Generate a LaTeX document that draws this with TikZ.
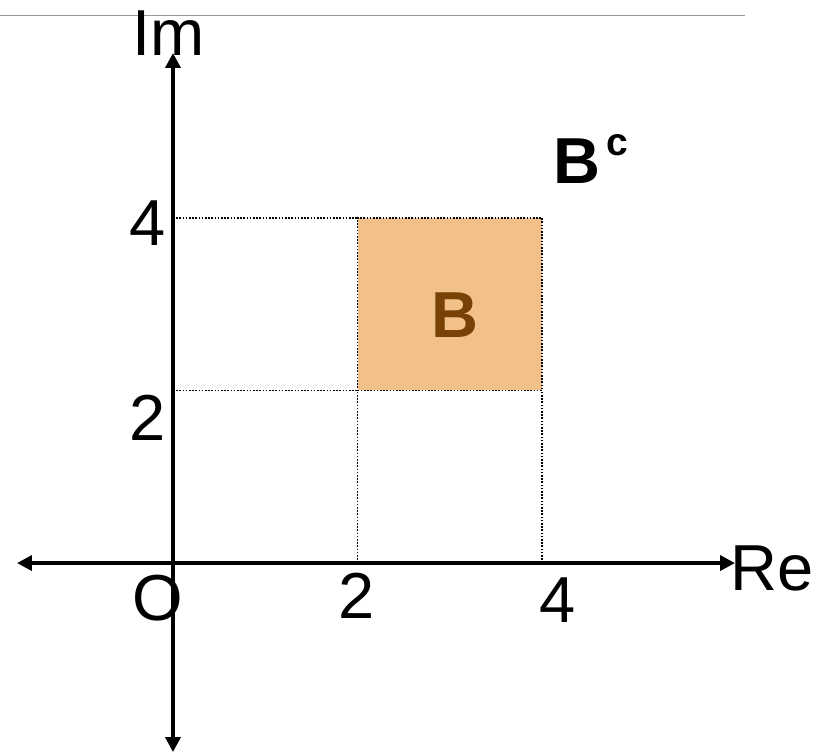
\documentclass[tikz,border=0pt]{standalone}
\usepackage{fontspec}
\setmainfont{Liberation Sans}
\usetikzlibrary{arrows.meta}
\definecolor{setfill}{RGB}{242,193,137}
\definecolor{settext}{RGB}{120,66,6}

\begin{document}
\begin{tikzpicture}[x=92.3pt, y=86.3pt,
  axis/.style={line width=3.6pt, {Triangle[length=15pt,width=15pt]}-{Triangle[length=15pt,width=15pt]}},
  guide/.style={line width=1.6pt, dash pattern=on 1.6pt off 1.6pt},
  lbl/.style={font=\fontsize{65}{78}\selectfont, inner sep=0pt}]
  \useasboundingbox (-1.874,-2.202) rectangle (7.053,6.524);
  % top rule
  \coordinate (ruleL) at (-1.874,6.344);
  \coordinate (ruleR) at (6.197,6.344);
  \draw[line width=1.8pt, black!40] (ruleL) -- (ruleR);
  % set B
  \coordinate (O) at (0,0);
  \coordinate (x2) at (2,0);
  \coordinate (x4) at (4,0);
  \coordinate (y2) at (0,2);
  \coordinate (y4) at (0,4);
  \coordinate (sw) at (2,2);
  \coordinate (se) at (4,2);
  \coordinate (ne) at (4,4);
  \coordinate (nw) at (2,4);
  \fill[setfill] (sw) rectangle (ne);
  \draw[guide] (sw) -- (se) -- (ne) -- (nw) -- cycle;
  \draw[guide] (y4) -- (nw);
  \draw[guide] (y2) -- (sw);
  \draw[guide] (x2) -- (sw);
  \draw[guide] (x4) -- (se);
  % axes
  \coordinate (reL) at (-1.690,0);
  \coordinate (reR) at (6.089,0);
  \coordinate (imT) at (0,5.910);
  \coordinate (imB) at (0,-2.190);
  \draw[axis] (reL) -- (reR);
  \draw[axis] (imB) -- (imT);
  % labels
  \node[lbl, anchor=base] (imlbl) at (-0.049,5.886) {Im};
  \node[lbl, anchor=base west] (relbl) at (6.035,-0.313) {Re};
  \node[lbl, anchor=base] (olbl) at (-0.163,-0.660) {O};
  \node[lbl, anchor=base] (x2lbl) at (1.993,-0.637) {2};
  \node[lbl, anchor=base] (x4lbl) at (4.171,-0.684) {4};
  \node[lbl, anchor=base] (y4lbl) at (-0.271,3.685) {4};
  \node[lbl, anchor=base] (y2lbl) at (-0.271,1.425) {2};
  \node[lbl, anchor=base, font=\fontsize{65}{78}\selectfont\bfseries, text=settext] (blbl) at (3.055,2.619) {B};
  \node[lbl, anchor=base west, font=\fontsize{65}{78}\selectfont\bfseries] (bclbl) at (4.117,4.403)
    {B\hspace{6pt}\raisebox{28pt}{\fontsize{39}{40}\selectfont c}};
\end{tikzpicture}
\end{document}
